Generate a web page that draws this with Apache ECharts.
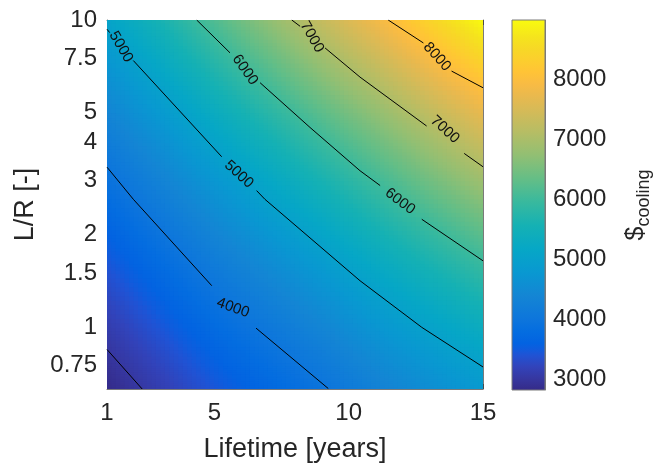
<!DOCTYPE html>
<html><head><meta charset="utf-8">
<script src="https://cdn.jsdelivr.net/npm/echarts@6/dist/echarts.min.js"></script>
<style>html,body{margin:0;padding:0;background:#fff}#c{width:657px;height:468px}</style>
</head><body><div id="c"></div>
<script>
// ---- data ----
const years  = [1, 3, 5, 7, 9, 11, 13, 15];
const ratios = [0.63, 0.75, 1, 1.5, 2, 3, 4, 5, 7.5, 10];
// estimated cooling cost, one row per year value, columns follow ratios
const cost = [
  [2830, 2928, 3102, 3375, 3587, 3914, 4165, 4370, 4768, 5069],
  [3129, 3237, 3429, 3729, 3963, 4323, 4599, 4825, 5263, 5595],
  [3427, 3548, 3763, 4097, 4357, 4757, 5064, 5314, 5800, 6167],
  [3698, 3833, 4071, 4441, 4729, 5170, 5508, 5784, 6318, 6721],
  [3964, 4113, 4377, 4787, 5104, 5590, 5961, 6265, 6851, 7293],
  [4286, 4444, 4724, 5159, 5496, 6012, 6407, 6730, 7353, 7824],
  [4558, 4732, 5038, 5513, 5881, 6443, 6873, 7224, 7900, 8411],
  [4825, 5013, 5345, 5860, 6258, 6865, 7328, 7706, 8435, 8985]
];
// contour lines [years, L/R], split where labels sit
const contour3000 = [[[1, 0.847], [2.31, 0.63]]];
const contour4000 = [[[1, 3.32], [1.98, 2.61], [4.9, 1.366]], [[6.55, 0.994], [9.24, 0.632]]];
const contour5000 = [[[1, 9.33], [1.1, 9.1]], [[1.98, 7.38], [5.27, 3.59]],
                     [[6.57, 2.785], [6.88, 2.61], [10.42, 1.418], [12.72, 1.0], [15, 0.743]]];
const contour6000 = [[[4.34, 10], [5.58, 7.82]], [[6.7, 6.25], [8.56, 4.47], [10.42, 3.233], [11.17, 2.893]],
                     [[12.72, 2.247], [15, 1.646]]];
const contour7000 = [[[7.88, 10], [8.19, 9.54]], [[9.12, 8.11], [10.42, 6.52], [12.9, 4.52]],
                     [[14.3, 3.68], [15, 3.33]]];
const contour8000 = [[[11.47, 10], [12.78, 8.42]], [[13.83, 6.82], [15, 6.02]]];
const contours = [contour3000, contour4000, contour5000, contour6000, contour7000, contour8000];
// label anchor [years, L/R, level]
const contourLabels = [[1.52, 8.18, 5000], [5.91, 3.146, 5000], [5.69, 1.157, 4000], [6.14, 6.88, 6000],
                       [11.91, 2.57, 6000], [8.63, 8.81, 7000], [13.58, 4.40, 7000], [13.29, 7.59, 8000]];
const xTicks = [1, 5, 10, 15];
const yTickLabels = [0.75, 1, 1.5, 2, 3, 4, 5, 7.5, 10];
const yTickMarks = [0.7, 0.75, 0.8, 0.9, 1, 1.5, 2, 3, 4, 5, 6, 7, 7.5, 8, 9, 10];
const colorTicks = [3000, 4000, 5000, 6000, 7000, 8000];
const colorMin = 2817, colorMax = 9000;

// ---- styles ----
const labelAngles = [60, 42, 20, 55, 37, 60, 42, 48]; // clockwise degrees
const FONT = 'Liberation Sans, Arial, Helvetica, sans-serif';
const TXT = '#262626', AX = '#7a7a7a', TK = '#4a4a4a';
const parulaStops = [
  [0, '#352a87'], [2, '#3637a0'], [4, '#3243ba'], [6, '#2053d4'], [7, '#0f5cdd'], [8, '#0363e1'],
  [10, '#046de0'], [12, '#0d75dc'], [16, '#1485d4'], [20, '#0998d1'], [24, '#06a7c6'], [28, '#15b1b4'],
  [32, '#38b99e'], [36, '#65be86'], [40, '#92bf73'], [44, '#b7bd64'], [48, '#d9ba56'], [50, '#e9b94e'],
  [52, '#f8bb44'], [54, '#ffc337'], [56, '#fcce2e'], [58, '#f7d826'], [60, '#f5e41d'], [63, '#f9fb0e']
].map(s => [s[0] / 63, s[1]]);
const stopRGB = parulaStops.map(s => [s[0], parseInt(s[1].slice(1, 3), 16), parseInt(s[1].slice(3, 5), 16), parseInt(s[1].slice(5, 7), 16)]);
function parula(v) {
  let t = (v - colorMin) / (colorMax - colorMin);
  t = Math.max(0, Math.min(1, t));
  for (let i = 1; i < stopRGB.length; i++) {
    if (t <= stopRGB[i][0]) {
      const a = stopRGB[i - 1], b = stopRGB[i];
      const f = (t - a[0]) / (b[0] - a[0] || 1);
      return 'rgb(' + Math.round(a[1] + (b[1] - a[1]) * f) + ',' + Math.round(a[2] + (b[2] - a[2]) * f) + ',' + Math.round(a[3] + (b[3] - a[3]) * f) + ')';
    }
  }
  return parulaStops[parulaStops.length - 1][1];
}

// ---- build series ----
const cells = [];
for (let i = 0; i < years.length - 1; i++)
  for (let j = 0; j < ratios.length - 1; j++)
    cells.push([years[i], ratios[j], years[i + 1], ratios[j + 1], cost[i][j], cost[i + 1][j], cost[i][j + 1], cost[i + 1][j + 1]]);

const N = 12, M = 12;
const surface = {
  type: 'custom', xAxisIndex: 0, yAxisIndex: 0, clip: true, silent: true, z: 1,
  encode: { x: [0, 2], y: [1, 3] },
  data: cells,
  renderItem: function (params, api) {
    const x0 = api.value(0), r0 = api.value(1), x1 = api.value(2), r1 = api.value(3);
    const v00 = api.value(4), v10 = api.value(5), v01 = api.value(6), v11 = api.value(7);
    const u0 = Math.log10(r0), u1 = Math.log10(r1);
    const children = [];
    for (let a = 0; a < N; a++) {
      for (let b = 0; b < M; b++) {
        const xa = x0 + (x1 - x0) * a / N, xb = x0 + (x1 - x0) * (a + 1) / N;
        const ua = u0 + (u1 - u0) * b / M, ub = u0 + (u1 - u0) * (b + 1) / M;
        const p0 = api.coord([xa, Math.pow(10, ua)]), p1 = api.coord([xb, Math.pow(10, ub)]);
        const s = (a + 0.5) / N, t = (b + 0.5) / M;
        const v = v00 * (1 - s) * (1 - t) + v10 * s * (1 - t) + v01 * (1 - s) * t + v11 * s * t;
        children.push({
          type: 'rect',
          shape: { x: Math.min(p0[0], p1[0]) - 0.3, y: Math.min(p0[1], p1[1]) - 0.3,
                   width: Math.abs(p1[0] - p0[0]) + 0.9, height: Math.abs(p1[1] - p0[1]) + 0.9 },
          style: { fill: parula(v) }
        });
      }
    }
    return { type: 'group', children: children };
  }
};

const series = [surface];
contours.forEach(function (segs) {
  segs.forEach(function (seg) {
    series.push({
      type: 'line', xAxisIndex: 0, yAxisIndex: 0, data: seg, showSymbol: false, symbol: 'none',
      silent: true, z: 3, clip: true, animation: false,
      lineStyle: { color: '#000', width: 1 }
    });
  });
});

series.push({
  type: 'custom', xAxisIndex: 0, yAxisIndex: 0, silent: true, z: 4,
  encode: { x: 0, y: 1 },
  data: contourLabels,
  renderItem: function (params, api) {
    const p = api.coord([api.value(0), api.value(1)]);
    const ang = labelAngles[params.dataIndex] * Math.PI / 180;
    return {
      type: 'text', x: p[0], y: p[1], rotation: -ang,
      style: { text: String(api.value(2)), fontSize: 15, fontFamily: FONT, fill: '#111',
               align: 'center', verticalAlign: 'middle' }
    };
  }
});

// colorbar
series.push({
  type: 'custom', xAxisIndex: 2, yAxisIndex: 2, silent: true, z: 2,
  encode: { x: [0, 2], y: [1, 3] },
  data: [[0, colorMin, 1, colorMax]],
  renderItem: function (params, api) {
    const p0 = api.coord([api.value(0), api.value(1)]), p1 = api.coord([api.value(2), api.value(3)]);
    return {
      type: 'rect',
      shape: { x: p0[0], y: p1[1], width: p1[0] - p0[0], height: p0[1] - p1[1] },
      style: {
        fill: { type: 'linear', x: 0, y: 1, x2: 0, y2: 0,
                colorStops: parulaStops.map(s => ({ offset: s[0], color: s[1] })) },
        stroke: AX, lineWidth: 1
      }
    };
  }
});

const lbl = { fontSize: 24, color: TXT, fontFamily: FONT, formatter: v => String(v) };
const option = {
  animation: false,
  backgroundColor: '#fff',
  grid: [
    { left: 107, top: 20, width: 376, height: 371 },
    { left: 512, top: 20, width: 33, height: 370 }
  ],
  xAxis: [
    { type: 'value', gridIndex: 0, min: 1, max: 15, position: 'bottom',
      axisLine: { show: true, onZero: false, lineStyle: { color: AX } },
      axisTick: { show: true, inside: true, length: 5, customValues: xTicks, lineStyle: { color: TK } },
      axisLabel: Object.assign({ customValues: xTicks, margin: 12 }, lbl),
      splitLine: { show: false },
      name: 'Lifetime [years]', nameLocation: 'middle', nameGap: 47,
      nameTextStyle: { fontSize: 27, color: TXT, fontFamily: FONT } },
    { type: 'value', gridIndex: 0, min: 1, max: 15, position: 'top',
      axisLine: { show: true, onZero: false, lineStyle: { color: AX } },
      axisTick: { show: true, inside: true, length: 5, customValues: xTicks, lineStyle: { color: TK } },
      axisLabel: { show: false }, splitLine: { show: false } },
    { type: 'value', gridIndex: 1, min: 0, max: 1, show: false }
  ],
  yAxis: [
    { type: 'log', logBase: 10, gridIndex: 0, min: 0.63, max: 10, position: 'left',
      axisLine: { show: true, onZero: false, lineStyle: { color: AX } },
      axisTick: { show: true, inside: true, length: 5, customValues: yTickMarks, lineStyle: { color: TK } },
      axisLabel: Object.assign({ customValues: yTickLabels, margin: 10 }, lbl),
      minorTick: { show: false }, splitLine: { show: false },
      name: 'L/R [-]', nameLocation: 'middle', nameGap: 60,
      nameTextStyle: { fontSize: 27, color: TXT, fontFamily: FONT } },
    { type: 'log', logBase: 10, gridIndex: 0, min: 0.63, max: 10, position: 'right',
      axisLine: { show: true, onZero: false, lineStyle: { color: AX } },
      axisTick: { show: true, inside: true, length: 5, customValues: yTickMarks, lineStyle: { color: TK } },
      axisLabel: { show: false }, splitLine: { show: false } },
    { type: 'value', gridIndex: 1, min: colorMin, max: colorMax, position: 'right',
      axisLine: { show: true, onZero: false, lineStyle: { color: AX } },
      axisTick: { show: true, inside: true, length: 4, customValues: colorTicks, lineStyle: { color: TK } },
      axisLabel: Object.assign({ customValues: colorTicks, margin: 8 }, lbl),
      splitLine: { show: false },
      name: '{a|$}{b|cooling}', nameLocation: 'middle', nameGap: 74,
      nameTextStyle: { rich: {
        a: { fontSize: 25, color: TXT, fontFamily: FONT },
        b: { fontSize: 18, color: TXT, fontFamily: FONT, padding: [16, 0, 0, 0] }
      } } }
  ],
  series: series
};

const chart = echarts.init(document.getElementById('c'), null, { renderer: 'canvas' });
chart.setOption(option);
</script>
</body></html>
